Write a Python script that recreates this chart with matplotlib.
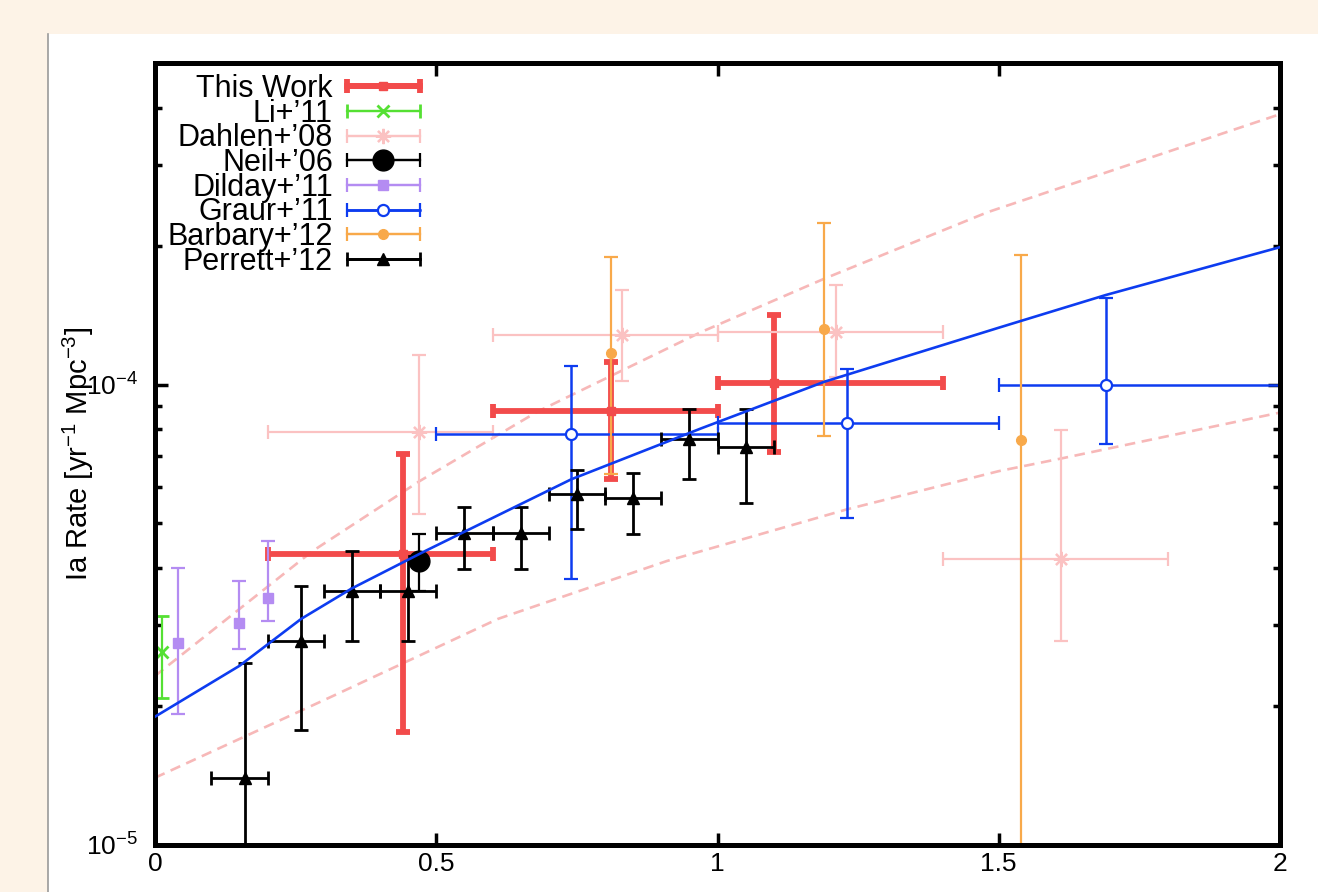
import numpy as np
import matplotlib
matplotlib.use('Agg')
import matplotlib.pyplot as plt
from matplotlib.patches import Rectangle
from matplotlib.lines import Line2D
from matplotlib.container import ErrorbarContainer
from matplotlib.legend_handler import HandlerErrorbar

plt.rcParams['font.family'] = ['Liberation Sans', 'DejaVu Sans']
plt.rcParams['mathtext.fontset'] = 'custom'
plt.rcParams['mathtext.rm'] = 'Liberation Sans'

# ---- data (redshift z, rate in yr^-1 Mpc^-3) ----
# This Work
tw_z = [0.44, 0.81, 1.10]
tw_zlo = [0.2, 0.6, 1.0]
tw_zhi = [0.6, 1.0, 1.4]
tw_rate = [4.28e-5, 8.78e-5, 1.01e-4]
tw_lo = [1.76e-5, 6.23e-5, 7.13e-5]
tw_hi = [7.06e-5, 1.12e-4, 1.42e-4]

# Li+'11
li_z = [0.013]
li_rate = [2.62e-5]
li_lo = [2.09e-5]
li_hi = [3.15e-5]

# Dahlen+'08
da_z = [0.47, 0.83, 1.21, 1.61]
da_zlo = [0.2, 0.6, 1.0, 1.4]
da_zhi = [0.6, 1.0, 1.4, 1.8]
da_rate = [7.91e-5, 1.28e-4, 1.30e-4, 4.18e-5]
da_lo = [5.24e-5, 1.02e-4, 1.04e-4, 2.78e-5]
da_hi = [1.16e-4, 1.61e-4, 1.65e-4, 7.99e-5]

# Neil+'06
ne_z = [0.47]
ne_rate = [4.14e-5]
ne_lo = [3.56e-5]
ne_hi = [4.73e-5]

# Dilday+'11
di_z = [0.04, 0.15, 0.20]
di_rate = [2.75e-5, 3.04e-5, 3.44e-5]
di_lo = [1.93e-5, 2.66e-5, 3.07e-5]
di_hi = [4.00e-5, 3.75e-5, 4.57e-5]

# Graur+'11
gr_z = [0.74, 1.23, 1.69]
gr_zlo = [0.5, 1.0, 1.5]
gr_zhi = [1.0, 1.5, 2.0]
gr_rate = [7.83e-5, 8.27e-5, 1.00e-4]
gr_lo = [3.78e-5, 5.13e-5, 7.45e-5]
gr_hi = [1.10e-4, 1.08e-4, 1.54e-4]

# Barbary+'12
ba_z = [0.81, 1.19, 1.54]
ba_rate = [1.17e-4, 1.32e-4, 7.6e-5]
ba_lo = [6.4e-5, 7.72e-5, 5e-6]
ba_hi = [1.89e-4, 2.25e-4, 1.91e-4]

# Perrett+'12
pe_z = [0.16, 0.26, 0.35, 0.45, 0.55, 0.65, 0.75, 0.85, 0.95, 1.05]
pe_zlo = [0.1, 0.2, 0.3, 0.4, 0.5, 0.6, 0.7, 0.8, 0.9, 1.0]
pe_zhi = [0.2, 0.3, 0.4, 0.5, 0.6, 0.7, 0.8, 0.9, 1.0, 1.1]
pe_rate = [1.40e-5, 2.78e-5, 3.56e-5, 3.56e-5, 4.76e-5, 4.76e-5, 5.78e-5, 5.67e-5, 7.64e-5, 7.34e-5]
pe_lo = [5e-6, 1.78e-5, 2.78e-5, 2.78e-5, 3.98e-5, 3.98e-5, 4.85e-5, 4.74e-5, 6.23e-5, 5.53e-5]
pe_hi = [2.48e-5, 3.65e-5, 4.35e-5, 4.25e-5, 5.42e-5, 5.42e-5, 6.52e-5, 6.42e-5, 8.87e-5, 8.87e-5]

# model curves
fit_z = [0.0, 0.15, 0.26, 0.35, 0.48, 0.74, 0.97, 1.19, 1.5, 1.69, 2.0]
fit_rate = [1.90e-5, 2.45e-5, 3.10e-5, 3.61e-5, 4.35e-5, 6.23e-5, 8.03e-5, 1.015e-4,
            1.33e-4, 1.566e-4, 1.99e-4]
up_z = [0.0, 0.28, 0.47, 0.68, 0.97, 1.19, 1.48, 2.0]
up_rate = [2.33e-5, 4.35e-5, 6.17e-5, 8.74e-5, 1.30e-4, 1.70e-4, 2.37e-4, 3.87e-4]
low_z = [0.0, 0.31, 0.61, 0.91, 1.23, 1.5, 1.61, 2.0]
low_rate = [1.40e-5, 2.09e-5, 3.10e-5, 4.14e-5, 5.36e-5, 6.49e-5, 6.91e-5, 8.70e-5]

labels = ["This Work", "Li+\u201911", "Dahlen+\u201908", "Neil+\u201906",
          "Dilday+\u201911", "Graur+\u201911", "Barbary+\u201912", "Perrett+\u201912"]

RED = '#f24b4b'
GREEN = '#55e033'
PINK = '#fbc2c2'
PURPLE = '#b48cf2'
BLUE = '#0d3cf0'
ORANGE = '#f8a94a'

W, H = 1318, 892
fig = plt.figure(figsize=(W / 100, H / 100), dpi=100, facecolor='#fdf3e7')
fig.patches.append(Rectangle((48 / W, 0), 1 - 48 / W, 1 - 34 / H, transform=fig.transFigure,
                             facecolor='white', edgecolor='none', zorder=-10))
fig.add_artist(Line2D([48 / W, 48 / W], [0, 1 - 34 / H], color='#9a9a9a', lw=1.2))

ax = fig.add_axes([155 / W, 1 - 845 / H, (1280 - 155) / W, (845 - 63) / H])
ax.set_yscale('log')
ax.set_xlim(0, 2)
ax.set_ylim(1e-5, 5e-4)


def draw(z, rate, lo, hi, zlo=None, zhi=None, **kw):
    z = np.array(z)
    rate = np.array(rate)
    yerr = [rate - np.array(lo), np.array(hi) - rate]
    xerr = None
    if zlo is not None:
        xerr = [z - np.array(zlo), np.array(zhi) - z]
    ax.errorbar(z, rate, yerr=yerr, xerr=xerr, linestyle='none', **kw)
    # proxy with horizontal bar only, gnuplot-style key sample
    return ax.errorbar([-5], [1e-4], xerr=[0.1], linestyle='-', **kw)


styles = [
    dict(color=RED, elinewidth=4.2, capsize=5, capthick=4.2, marker='s', ms=6, lw=4.2),
    dict(color=GREEN, elinewidth=1.6, capsize=5, capthick=1.6, marker='x', ms=9, mew=2, lw=1.6),
    dict(color=PINK, elinewidth=1.6, capsize=5, capthick=1.6, marker=(8, 2, 0), ms=11, mew=1.6, lw=1.6),
    dict(color='black', elinewidth=1.6, capsize=5, capthick=1.6, marker='o', ms=15, lw=1.6),
    dict(color=PURPLE, elinewidth=1.6, capsize=5, capthick=1.6, marker='s', ms=7, lw=1.6),
    dict(color=BLUE, elinewidth=1.8, capsize=5, capthick=1.8, marker='o', ms=8, mfc='white', mew=1.6, lw=1.8),
    dict(color=ORANGE, elinewidth=1.6, capsize=5, capthick=1.6, marker='o', ms=7, lw=1.6),
    dict(color='black', elinewidth=2.0, capsize=5, capthick=2.0, marker='^', ms=9, lw=2.0),
]

handles = []
handles.append(draw(tw_z, tw_rate, tw_lo, tw_hi, tw_zlo, tw_zhi, **styles[0]))
handles.append(draw(li_z, li_rate, li_lo, li_hi, **styles[1]))
handles.append(draw(da_z, da_rate, da_lo, da_hi, da_zlo, da_zhi, **styles[2]))
handles.append(draw(ne_z, ne_rate, ne_lo, ne_hi, **styles[3]))
handles.append(draw(di_z, di_rate, di_lo, di_hi, **styles[4]))
handles.append(draw(gr_z, gr_rate, gr_lo, gr_hi, gr_zlo, gr_zhi, **styles[5]))
handles.append(draw(ba_z, ba_rate, ba_lo, ba_hi, **styles[6]))
handles.append(draw(pe_z, pe_rate, pe_lo, pe_hi, pe_zlo, pe_zhi, **styles[7]))

ax.plot(fit_z, fit_rate, color=BLUE, lw=1.9, zorder=5)
ax.plot(up_z, up_rate, color='#f7b8b8', lw=1.9, ls=(0, (4, 2.5)), zorder=1)
ax.plot(low_z, low_rate, color='#f7b8b8', lw=1.9, ls=(0, (4, 2.5)), zorder=1)

for s in ax.spines.values():
    s.set_linewidth(3.6)
ax.set_xticks([0, 0.5, 1, 1.5, 2])
ax.set_xticklabels(['0', '0.5', '1', '1.5', '2'])
ax.tick_params(which='both', direction='in', top=True, right=True, width=2.5)
ax.tick_params(which='major', length=9, labelsize=19)
ax.tick_params(which='minor', length=5)
ax.tick_params(axis='y', which='major', pad=12)
ax.tick_params(axis='x', which='major', pad=5)

ax.set_ylabel(r'Ia Rate [yr$^{-1}$ Mpc$^{-3}$]', fontsize=21)
ax.yaxis.set_label_coords(-0.052, 0.5)

leg = ax.legend(handles, labels, loc='upper right', bbox_to_anchor=(0.2356, 0.986),
                frameon=False, markerfirst=False, fontsize=22, handlelength=2.4,
                handletextpad=0.45, labelspacing=-0.175, borderpad=0, borderaxespad=0,
                handler_map={ErrorbarContainer: HandlerErrorbar(xerr_size=1.2)})

fig.savefig('out.png', dpi=100, facecolor=fig.get_facecolor())
